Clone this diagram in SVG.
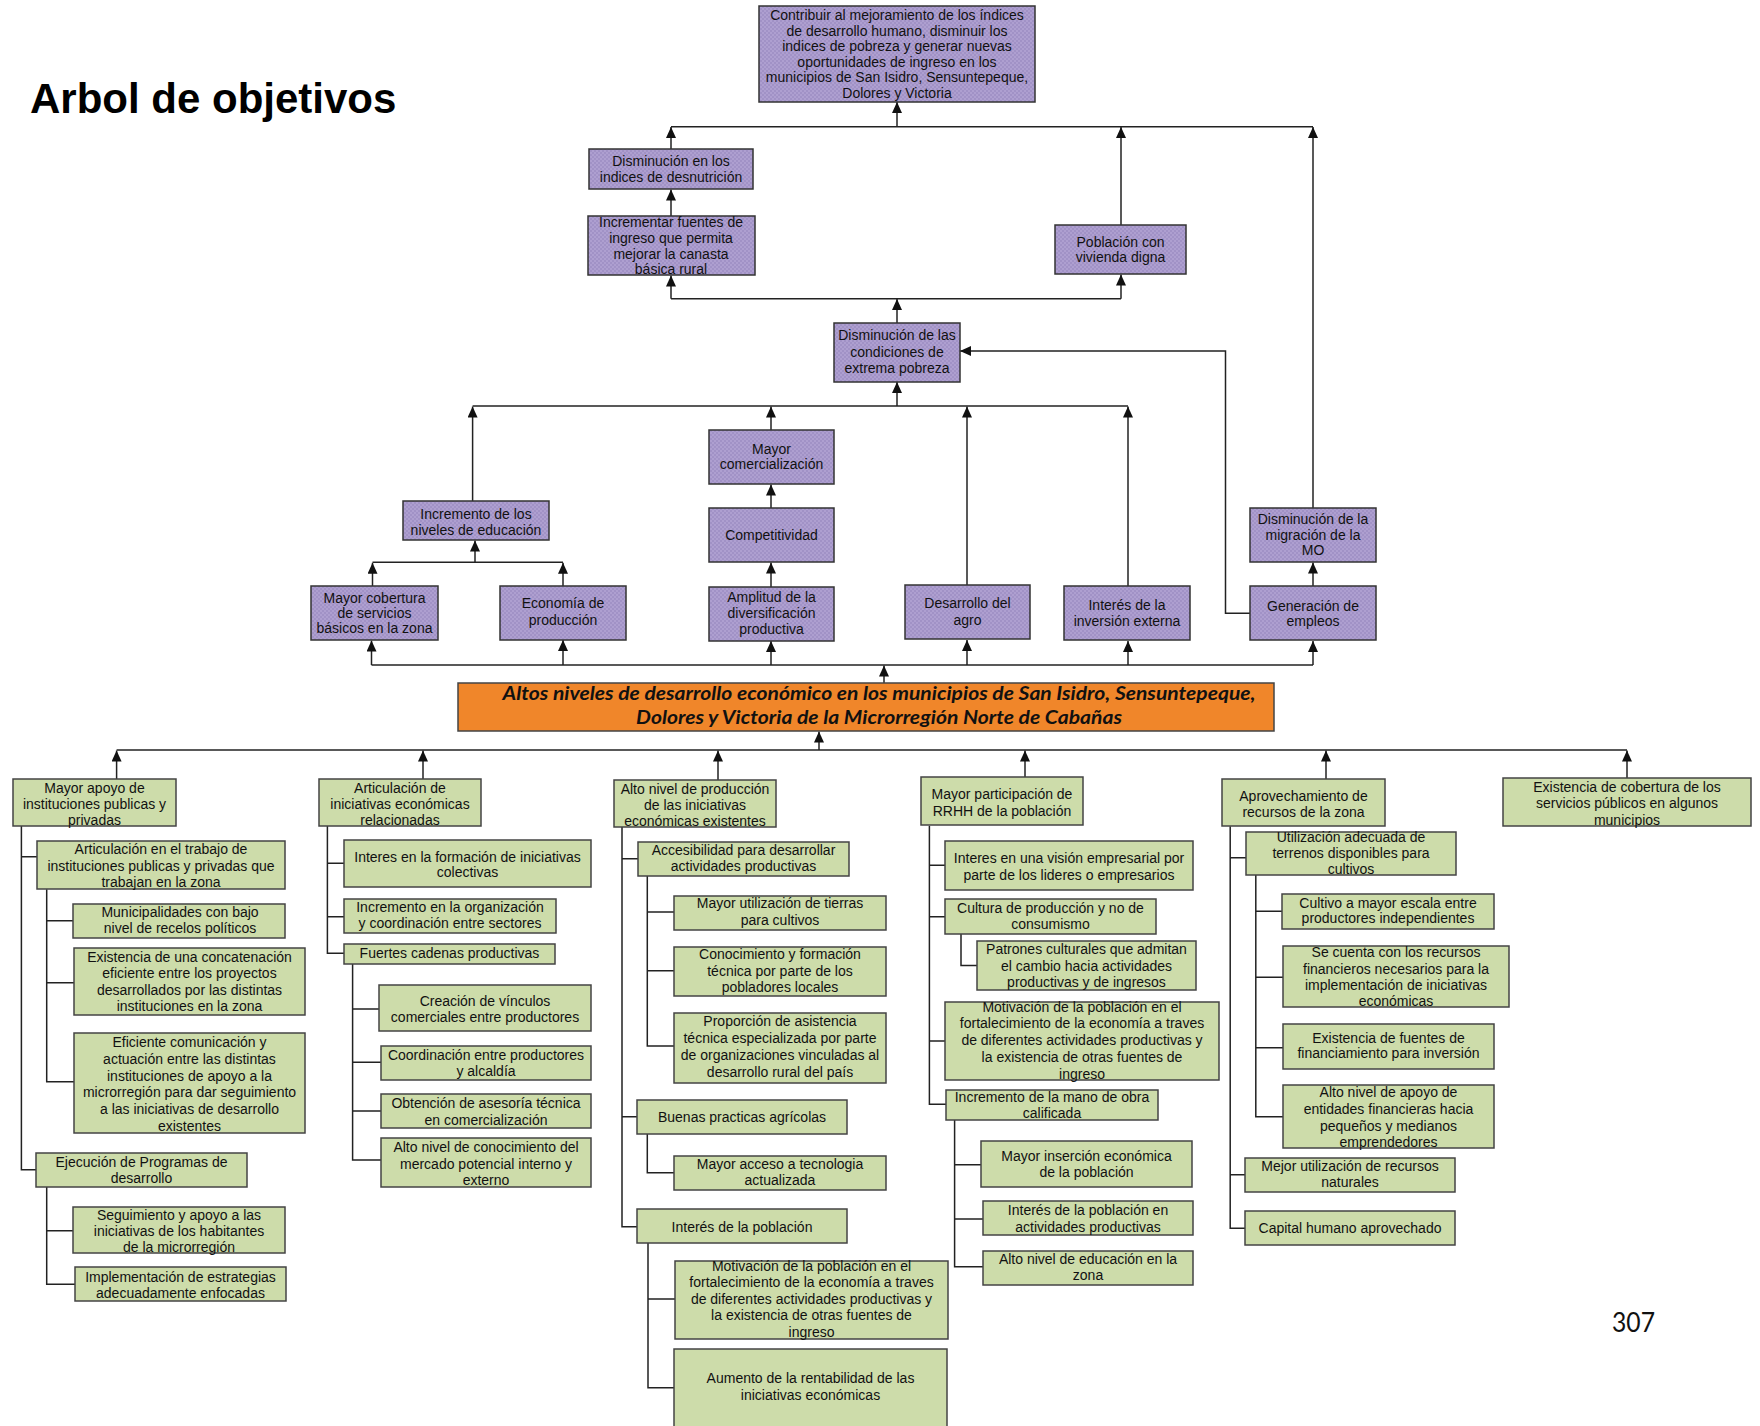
<svg xmlns="http://www.w3.org/2000/svg" width="1760" height="1426" viewBox="0 0 1760 1426">
<style>
.p{fill:url(#dots);stroke:#333;stroke-width:1.5}
.g{fill:#cddcaa;stroke:#444;stroke-width:1.5}
.o{fill:#f0862a;stroke:#444;stroke-width:1.5}
.t{font-family:"Liberation Sans",Arial,sans-serif;font-size:14px;fill:#111;text-anchor:middle}
.ot{font-family:Lato,"Liberation Sans",sans-serif;font-size:18px;font-weight:bold;font-style:italic;fill:#111;text-anchor:middle}
.c{fill:none;stroke:#222;stroke-width:1.5}
.a{fill:none;stroke:#222;stroke-width:1.5;marker-end:url(#ah)}
</style>
<defs>
<pattern id="dots" width="4" height="4" patternUnits="userSpaceOnUse">
<rect width="4" height="4" fill="#ae9fd0"/>
<circle cx="1" cy="1" r="0.8" fill="#9181ba"/>
<circle cx="3" cy="3" r="0.8" fill="#9181ba"/>
</pattern>
<marker id="ah" markerUnits="userSpaceOnUse" markerWidth="11" markerHeight="10" refX="11" refY="5" orient="auto">
<path d="M0,0 L11,5 L0,10 Z" fill="#111"/>
</marker>
</defs>
<rect width="1760" height="1426" fill="#fff"/>
<text x="30" y="112.5" style="font-family:'Liberation Sans',Arial,sans-serif;font-size:42px;font-weight:bold;fill:#000">Arbol de objetivos</text>
<text x="1612" y="1331.5" textLength="43" lengthAdjust="spacingAndGlyphs" style="font-family:Lato,'Open Sans',sans-serif;font-size:27px;fill:#111">307</text>

<g id="connectors">
<path class="c" d="M671,126.7 H1313"/>
<path class="a" d="M897,126.7 V102"/>
<path class="a" d="M671,149 V127"/>
<path class="a" d="M1121,225 V127"/>
<path class="a" d="M1313,508 V127"/>
<path class="a" d="M671,216 V189.5"/>
<path class="c" d="M671,298.7 H1121"/>
<path class="a" d="M671,298.7 V275.5"/>
<path class="a" d="M1121,298.7 V274.5"/>
<path class="a" d="M897,323 V299"/>
<path class="a" d="M1250,613.3 H1225.5 V351 H960"/>
<path class="c" d="M472.6,406 H1128"/>
<path class="a" d="M897,406 V382"/>
<path class="a" d="M472.6,501 V406.5"/>
<path class="a" d="M771,430 V406.5"/>
<path class="a" d="M967,585 V406.5"/>
<path class="a" d="M1128,586 V406.5"/>
<path class="a" d="M771,508 V484.5"/>
<path class="a" d="M771,587 V562.5"/>
<path class="c" d="M372.5,562.3 H563"/>
<path class="a" d="M475,562.3 V540.5"/>
<path class="a" d="M372.5,586 V562.8"/>
<path class="a" d="M563,586 V562.8"/>
<path class="a" d="M1313,586 V562.5"/>
<path class="c" d="M371.5,665 H1313"/>
<path class="a" d="M371.5,665 V640.5"/>
<path class="a" d="M563,665 V640"/>
<path class="a" d="M771,665 V641"/>
<path class="a" d="M967,665 V640"/>
<path class="a" d="M1128,665 V641"/>
<path class="a" d="M1313,665 V641"/>
<path class="a" d="M884,683 V665.5"/>
<path class="c" d="M116.6,750 H1627"/>
<path class="a" d="M819,750 V731.5"/>
<path class="a" d="M116.6,779 V750.5"/>
<path class="a" d="M423,779 V750.5"/>
<path class="a" d="M718,780 V750.5"/>
<path class="a" d="M1025,777 V750.5"/>
<path class="a" d="M1326,779 V750.5"/>
<path class="a" d="M1627,778 V750.5"/>
<path class="c" d="M21.4,826 V1169.7 H36 M21.4,856.7 H37"/>
<path class="c" d="M46.7,889.3 V1081.7 H74 M46.7,920.7 H73 M46.7,982.7 H74"/>
<path class="c" d="M46.7,1187 V1284.3 H75 M46.7,1230.7 H73"/>
<path class="c" d="M327.4,826 V953.3 H344 M327.4,863.3 H344 M327.4,916.7 H344"/>
<path class="c" d="M352.6,964 V1160 H381 M352.6,1009 H379 M352.6,1062.3 H381 M352.6,1111 H381"/>
<path class="c" d="M622,827 V1226.7 H637 M622,858.7 H638 M622,1116.7 H637"/>
<path class="c" d="M647.3,875.7 V1046 H674 M647.3,912 H674 M647.3,970.7 H674"/>
<path class="c" d="M647.3,1133.7 V1172.7 H674"/>
<path class="c" d="M648,1243 V1387.7 H674 M648,1299 H675"/>
<path class="c" d="M929.4,825.7 V1104.3 H946 M929.4,865.3 H945 M929.4,916.7 H945 M929.4,1041 H945"/>
<path class="c" d="M961,934 V965.5 H977"/>
<path class="c" d="M954.6,1120 V1266.7 H983 M954.6,1164.7 H981 M954.6,1219 H983"/>
<path class="c" d="M1230.2,826.3 V1228.3 H1245 M1230.2,857.7 H1246 M1230.2,1174.7 H1245"/>
<path class="c" d="M1255.8,875 V1116.7 H1283 M1255.8,911.3 H1282 M1255.8,977.3 H1283 M1255.8,1047.7 H1283"/>
</g>

<g id="p1"><rect class="p" x="759" y="6" width="276" height="96"/><text class="t" x="897" y="20">Contribuir al mejoramiento de los índices<tspan x="897" dy="15.6">de desarrollo humano, disminuir los</tspan><tspan x="897" dy="15.6">indices de pobreza y generar nuevas</tspan><tspan x="897" dy="15.6">oportunidades de ingreso en los</tspan><tspan x="897" dy="15.6">municipios de San Isidro, Sensuntepeque,</tspan><tspan x="897" dy="15.6">Dolores y Victoria</tspan></text></g>
<g id="p2"><rect class="p" x="589" y="149" width="164" height="40"/><text class="t" x="671" y="165.7">Disminución en los<tspan x="671" dy="16">indices de desnutrición</tspan></text></g>
<g id="p3"><rect class="p" x="588" y="216" width="167" height="59"/><text class="t" x="671" y="226.7">Incrementar fuentes de<tspan x="671" dy="15.9">ingreso que permita</tspan><tspan x="671" dy="15.9">mejorar la canasta</tspan><tspan x="671" dy="15.9">básica rural</tspan></text></g>
<g id="p4"><rect class="p" x="1055" y="225" width="131" height="49"/><text class="t" x="1120.5" y="246.7">Población con<tspan x="1120.5" dy="15.6">vivienda digna</tspan></text></g>
<g id="p5"><rect class="p" x="834" y="323" width="126" height="59"/><text class="t" x="897" y="340">Disminución de las<tspan x="897" dy="16.7">condiciones de</tspan><tspan x="897" dy="16.7">extrema pobreza</tspan></text></g>
<g id="p6"><rect class="p" x="403" y="501" width="146" height="39"/><text class="t" x="476" y="518.7">Incremento de los<tspan x="476" dy="16">niveles de educación</tspan></text></g>
<g id="p7"><rect class="p" x="709" y="430" width="125" height="54"/><text class="t" x="771.5" y="454.3">Mayor<tspan x="771.5" dy="15">comercialización</tspan></text></g>
<g id="p8"><rect class="p" x="709" y="508" width="125" height="54"/><text class="t" x="771.5" y="540.3">Competitividad</text></g>
<g id="p9"><rect class="p" x="709" y="587" width="125" height="54"/><text class="t" x="771.5" y="602.3">Amplitud de la<tspan x="771.5" dy="16">diversificación</tspan><tspan x="771.5" dy="16">productiva</tspan></text></g>
<g id="p10"><rect class="p" x="311" y="586" width="127" height="54"/><text class="t" x="374.5" y="602.7">Mayor cobertura<tspan x="374.5" dy="15.3">de servicios</tspan><tspan x="374.5" dy="15.3">básicos en la zona</tspan></text></g>
<g id="p11"><rect class="p" x="500" y="586" width="126" height="54"/><text class="t" x="563" y="608.3">Economía de<tspan x="563" dy="16.7">producción</tspan></text></g>
<g id="p12"><rect class="p" x="905" y="585" width="125" height="54"/><text class="t" x="967.5" y="608.3">Desarrollo del<tspan x="967.5" dy="16.7">agro</tspan></text></g>
<g id="p13"><rect class="p" x="1064" y="586" width="126" height="54"/><text class="t" x="1127" y="610">Interés de la<tspan x="1127" dy="16">inversión externa</tspan></text></g>
<g id="p14"><rect class="p" x="1250" y="508" width="126" height="54"/><text class="t" x="1313" y="524.3">Disminución de la<tspan x="1313" dy="15.5">migración de la</tspan><tspan x="1313" dy="15.5">MO</tspan></text></g>
<g id="p15"><rect class="p" x="1250" y="586" width="126" height="54"/><text class="t" x="1313" y="610.7">Generación de<tspan x="1313" dy="15.6">empleos</tspan></text></g>

<g id="o1"><rect class="o" x="458" y="683" width="816" height="48"/><text class="ot" x="879" y="700" textLength="753" lengthAdjust="spacingAndGlyphs">Altos niveles de desarrollo económico en los municipios de San Isidro, Sensuntepeque,</text><text class="ot" x="879" y="723.5" textLength="486" lengthAdjust="spacingAndGlyphs">Dolores y Victoria de la Microrregión Norte de Cabañas</text></g>

<g id="g1"><rect class="g" x="13" y="779" width="163" height="47"/><text class="t" x="94.5" y="792.7">Mayor apoyo de<tspan x="94.5" dy="16.2">instituciones publicas y</tspan><tspan x="94.5" dy="16.2">privadas</tspan></text></g>
<g id="g2"><rect class="g" x="37" y="841" width="248" height="48"/><text class="t" x="161" y="854.3">Articulación en el trabajo de<tspan x="161" dy="16.5">instituciones publicas y privadas que</tspan><tspan x="161" dy="16.5">trabajan en la zona</tspan></text></g>
<g id="g3"><rect class="g" x="73" y="904" width="212" height="34"/><text class="t" x="180" y="917.3">Municipalidades con bajo<tspan x="180" dy="16">nivel de recelos políticos</tspan></text></g>
<g id="g4"><rect class="g" x="74" y="948" width="231" height="67"/><text class="t" x="189.5" y="961.7">Existencia de una concatenación<tspan x="189.5" dy="16.4">eficiente entre los proyectos</tspan><tspan x="189.5" dy="16.4">desarrollados por las distintas</tspan><tspan x="189.5" dy="16.4">instituciones en la zona</tspan></text></g>
<g id="g5"><rect class="g" x="74" y="1033" width="231" height="100"/><text class="t" x="189.5" y="1047.3">Eficiente comunicación y<tspan x="189.5" dy="16.7">actuación entre las distintas</tspan><tspan x="189.5" dy="16.7">instituciones de apoyo a la</tspan><tspan x="189.5" dy="16.7">microrregión para dar seguimiento</tspan><tspan x="189.5" dy="16.7">a las iniciativas de desarrollo</tspan><tspan x="189.5" dy="16.7">existentes</tspan></text></g>
<g id="g6"><rect class="g" x="36" y="1153" width="211" height="34"/><text class="t" x="141.5" y="1166.7">Ejecución de Programas de<tspan x="141.5" dy="16">desarrollo</tspan></text></g>
<g id="g7"><rect class="g" x="73" y="1207" width="212" height="46"/><text class="t" x="179" y="1219.7">Seguimiento y apoyo a las<tspan x="179" dy="16.3">iniciativas de los habitantes</tspan><tspan x="179" dy="16.3">de la microrregión</tspan></text></g>
<g id="g8"><rect class="g" x="75" y="1267" width="211" height="34"/><text class="t" x="180.5" y="1282.3">Implementación de estrategias<tspan x="180.5" dy="16">adecuadamente enfocadas</tspan></text></g>

<g id="g9"><rect class="g" x="319" y="779" width="162" height="47"/><text class="t" x="400" y="792.7">Articulación de<tspan x="400" dy="16.2">iniciativas económicas</tspan><tspan x="400" dy="16.2">relacionadas</tspan></text></g>
<g id="g10"><rect class="g" x="344" y="840" width="247" height="47"/><text class="t" x="467.5" y="861.7">Interes en la formación de iniciativas<tspan x="467.5" dy="15.6">colectivas</tspan></text></g>
<g id="g11"><rect class="g" x="344" y="899" width="212" height="34"/><text class="t" x="450" y="912.3">Incremento en la organización<tspan x="450" dy="16">y coordinación entre sectores</tspan></text></g>
<g id="g12"><rect class="g" x="344" y="944" width="211" height="20"/><text class="t" x="449.5" y="958.3">Fuertes cadenas productivas</text></g>
<g id="g13"><rect class="g" x="379" y="985" width="212" height="46"/><text class="t" x="485" y="1006.3">Creación de vínculos<tspan x="485" dy="15.7">comerciales entre productores</tspan></text></g>
<g id="g14"><rect class="g" x="381" y="1046" width="210" height="34"/><text class="t" x="486" y="1060">Coordinación entre productores<tspan x="486" dy="16">y alcaldía</tspan></text></g>
<g id="g15"><rect class="g" x="381" y="1094" width="210" height="34"/><text class="t" x="486" y="1108.3">Obtención de asesoría técnica<tspan x="486" dy="16.7">en comercialización</tspan></text></g>
<g id="g16"><rect class="g" x="381" y="1138" width="210" height="49"/><text class="t" x="486" y="1152.3">Alto nivel de conocimiento del<tspan x="486" dy="16.5">mercado potencial interno y</tspan><tspan x="486" dy="16.5">externo</tspan></text></g>

<g id="g17"><rect class="g" x="614" y="780" width="162" height="47"/><text class="t" x="695" y="793.7">Alto nivel de producción<tspan x="695" dy="16.3">de las iniciativas</tspan><tspan x="695" dy="16.3">económicas existentes</tspan></text></g>
<g id="g18"><rect class="g" x="638" y="842" width="211" height="34"/><text class="t" x="743.5" y="855.3">Accesibilidad para desarrollar<tspan x="743.5" dy="16">actividades productivas</tspan></text></g>
<g id="g19"><rect class="g" x="674" y="896" width="212" height="34"/><text class="t" x="780" y="908.3">Mayor utilización de tierras<tspan x="780" dy="17">para cultivos</tspan></text></g>
<g id="g20"><rect class="g" x="674" y="947" width="212" height="49"/><text class="t" x="780" y="959.3">Conocimiento y formación<tspan x="780" dy="16.5">técnica por parte de los</tspan><tspan x="780" dy="16.5">pobladores locales</tspan></text></g>
<g id="g21"><rect class="g" x="674" y="1013" width="212" height="70"/><text class="t" x="780" y="1026.3">Proporción de asistencia<tspan x="780" dy="16.8">técnica especializada por parte</tspan><tspan x="780" dy="16.8">de organizaciones vinculadas al</tspan><tspan x="780" dy="16.8">desarrollo rural del país</tspan></text></g>
<g id="g22"><rect class="g" x="637" y="1100" width="210" height="34"/><text class="t" x="742" y="1121.7">Buenas practicas agrícolas</text></g>
<g id="g23"><rect class="g" x="674" y="1156" width="212" height="34"/><text class="t" x="780" y="1169.3">Mayor acceso a tecnologia<tspan x="780" dy="16">actualizada</tspan></text></g>
<g id="g24"><rect class="g" x="637" y="1209" width="210" height="34"/><text class="t" x="742" y="1231.7">Interés de la población</text></g>
<g id="g25"><rect class="g" x="675" y="1261" width="273" height="78"/><text class="t" x="811.5" y="1270.7">Motivación de la población en el<tspan x="811.5" dy="16.5">fortalecimiento de la economía a traves</tspan><tspan x="811.5" dy="16.5">de diferentes actividades productivas y</tspan><tspan x="811.5" dy="16.5">la existencia de otras fuentes de</tspan><tspan x="811.5" dy="16.5">ingreso</tspan></text></g>
<g id="g26"><rect class="g" x="674" y="1349" width="273" height="90"/><text class="t" x="810.5" y="1383.3">Aumento de la rentabilidad de las<tspan x="810.5" dy="16.7">iniciativas económicas</tspan></text></g>

<g id="g27"><rect class="g" x="921" y="777" width="162" height="48"/><text class="t" x="1002" y="799.3">Mayor participación de<tspan x="1002" dy="16.7">RRHH de la población</tspan></text></g>
<g id="g28"><rect class="g" x="945" y="841" width="248" height="49"/><text class="t" x="1069" y="863.3">Interes en una visión empresarial por<tspan x="1069" dy="17">parte de los lideres o empresarios</tspan></text></g>
<g id="g29"><rect class="g" x="945" y="899" width="211" height="35"/><text class="t" x="1050.5" y="912.7">Cultura de producción y no de<tspan x="1050.5" dy="16.3">consumismo</tspan></text></g>
<g id="g30"><rect class="g" x="977" y="941" width="219" height="49"/><text class="t" x="1086.5" y="954.3">Patrones culturales que admitan<tspan x="1086.5" dy="16.5">el cambio hacia actividades</tspan><tspan x="1086.5" dy="16.5">productivas y de ingresos</tspan></text></g>
<g id="g31"><rect class="g" x="945" y="1002" width="274" height="78"/><text class="t" x="1082" y="1011.7">Motivación de la población en el<tspan x="1082" dy="16.7">fortalecimiento de la economía a traves</tspan><tspan x="1082" dy="16.7">de diferentes actividades productivas y</tspan><tspan x="1082" dy="16.7">la existencia de otras fuentes de</tspan><tspan x="1082" dy="16.7">ingreso</tspan></text></g>
<g id="g32"><rect class="g" x="946" y="1090" width="212" height="30"/><text class="t" x="1052" y="1101.7">Incremento de la mano de obra<tspan x="1052" dy="16.6">calificada</tspan></text></g>
<g id="g33"><rect class="g" x="981" y="1141" width="211" height="46"/><text class="t" x="1086.5" y="1161">Mayor inserción económica<tspan x="1086.5" dy="16.3">de la población</tspan></text></g>
<g id="g34"><rect class="g" x="983" y="1201" width="210" height="34"/><text class="t" x="1088" y="1215.3">Interés de la población en<tspan x="1088" dy="17">actividades productivas</tspan></text></g>
<g id="g35"><rect class="g" x="983" y="1251" width="210" height="34"/><text class="t" x="1088" y="1264">Alto nivel de educación en la<tspan x="1088" dy="16.3">zona</tspan></text></g>

<g id="g36"><rect class="g" x="1222" y="779" width="163" height="47"/><text class="t" x="1303.5" y="800.7">Aprovechamiento de<tspan x="1303.5" dy="16.6">recursos de la zona</tspan></text></g>
<g id="g37"><rect class="g" x="1246" y="832" width="210" height="43"/><text class="t" x="1351" y="841.7">Utilización adecuada de<tspan x="1351" dy="16.3">terrenos disponibles para</tspan><tspan x="1351" dy="16.3">cultivos</tspan></text></g>
<g id="g38"><rect class="g" x="1282" y="894" width="212" height="35"/><text class="t" x="1388" y="907.7">Cultivo a mayor escala entre<tspan x="1388" dy="15.6">productores independientes</tspan></text></g>
<g id="g39"><rect class="g" x="1283" y="946" width="226" height="61"/><text class="t" x="1396" y="957.3">Se cuenta con los recursos<tspan x="1396" dy="16.2">financieros necesarios para la</tspan><tspan x="1396" dy="16.2">implementación de iniciativas</tspan><tspan x="1396" dy="16.2">económicas</tspan></text></g>
<g id="g40"><rect class="g" x="1283" y="1024" width="211" height="45"/><text class="t" x="1388.5" y="1042.7">Existencia de fuentes de<tspan x="1388.5" dy="15.6">financiamiento para inversión</tspan></text></g>
<g id="g41"><rect class="g" x="1283" y="1085" width="211" height="63"/><text class="t" x="1388.5" y="1097.3">Alto nivel de apoyo de<tspan x="1388.5" dy="16.7">entidades financieras hacia</tspan><tspan x="1388.5" dy="16.7">pequeños y medianos</tspan><tspan x="1388.5" dy="16.7">emprendedores</tspan></text></g>
<g id="g42"><rect class="g" x="1245" y="1158" width="210" height="34"/><text class="t" x="1350" y="1171.3">Mejor utilización de recursos<tspan x="1350" dy="16">naturales</tspan></text></g>
<g id="g43"><rect class="g" x="1245" y="1211" width="210" height="34"/><text class="t" x="1350" y="1233.3">Capital humano aprovechado</text></g>

<g id="g44"><rect class="g" x="1503" y="778" width="248" height="48"/><text class="t" x="1627" y="791.7">Existencia de cobertura de los<tspan x="1627" dy="16.7">servicios públicos en algunos</tspan><tspan x="1627" dy="16.7">municipios</tspan></text></g>
</svg>
